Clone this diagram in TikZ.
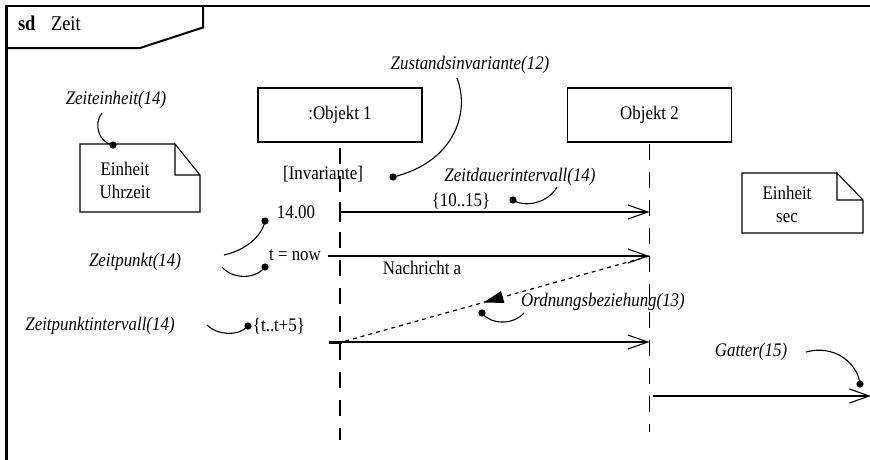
\documentclass[tikz,border=0pt]{standalone}
\usepackage{fontspec}
\setmainfont{Liberation Serif}[FakeStretch=0.88]
\usetikzlibrary{arrows.meta,decorations.markings,calc}

\begin{document}
\begin{tikzpicture}[x=1pt,y=-1pt,
  every node/.style={inner sep=0pt,outer sep=0pt},
  txt/.style={font=\fontsize{19.2}{23}\selectfont},
  itxt/.style={font=\fontsize{19.2}{23}\selectfont\itshape},
  ttl/.style={font=\fontsize{21}{25}\selectfont},
  thinline/.style={line width=1.1pt},
  objbox/.style={draw,line width=1.1pt,minimum width=164pt,minimum height=54pt,
    font=\fontsize{19.2}{23}\selectfont},
  lifeline/.style={line width=1.1pt,dash pattern=on 16pt off 12pt},
  msg/.style={line width=1.1pt,-{Straight Barb[length=20pt,width=14pt]}},
  gatemsg/.style={line width=2pt,-{Straight Barb[length=20pt,width=14pt,line width=1.1pt]}},
  annoline/.style={line width=1.1pt},
  dot/.style={fill=black},
  notebox/.style={line width=1.1pt,line join=miter},
  orderline/.style={line width=1.2pt,dash pattern=on 4pt off 4pt,
    postaction={decorate,decoration={markings,
      mark=at position 0.54 with {\arrow{Triangle[length=20pt,width=12pt]}}}}}
]
\useasboundingbox (0,0) rectangle (870,459);
\clip (0,0) rectangle (870,459);

% frame and name tab
\draw[line width=2.8pt] (6.5,480) -- (6.5,6) -- (890,6);
\draw[line width=2pt,line join=miter] (6.5,48) -- (140,48) -- (203,27.5) -- (203,6);
\node[ttl,anchor=base west] (sd) at (18,30) {\textbf{sd}};
\node[ttl,anchor=base west] (title) at (51,30) {Zeit};

% objects and lifelines
\node[objbox] (o1) at (340,115) {:Objekt 1};
\node[objbox] (o2) at (649.5,115) {Objekt 2};
\coordinate (l1end) at (340,440);
\coordinate (l2end) at (649.5,432);
\draw[lifeline,dash phase=22pt] (o1.south) -- (l1end);
\draw[lifeline,dash phase=26pt] (o2.south) -- (l2end);

% note: time unit
\draw[notebox] (175,144) -- (80,144) -- (80,212) -- (200,212) -- (200,175) -- (175,144) -- (175,175) -- (200,175);
\node[txt,align=center] (n1) at (125,180) {Einheit\\Uhrzeit};
\node[itxt] (zeinh) at (116,100) {Zeiteinheit(14)};
\coordinate (d1) at (113,145);
\draw[annoline] (102,113) .. controls (93,124) and (99,143) .. (d1);
\fill[dot] (d1) circle (3.6);

% note: seconds
\draw[notebox] (837,173) -- (742,173) -- (742,233) -- (863,233) -- (863,200) -- (837,173) -- (837,200) -- (863,200);
\node[txt,align=center] (n2) at (787,204) {Einheit\\sec};

% state invariant
\node[txt] (inv) at (323,174) {[Invariante]};
\node[itxt] (zinv) at (470,65) {Zustandsinvariante(12)};
\coordinate (d2) at (393,177);
\draw[annoline] (457,78) .. controls (471,115) and (452,163) .. (d2);
\fill[dot] (d2) circle (3.6);

% duration constraint
\node[itxt] (zdauer) at (520,177) {Zeitdauerintervall(14)};
\node[txt] (dauer) at (461,201) {\{10..15\}};
\coordinate (d3) at (513,200);
\draw[annoline] (d3) .. controls (525,208) and (548,203) .. (557,187);
\fill[dot] (d3) circle (3.6);

% first message
\coordinate (m1s) at (340,212);
\coordinate (m1e) at (649.5,212);
\draw[thinline] (340,202) -- (340,222);
\draw[msg] (m1s) -- (m1e);

% time points
\node[txt] (t1400) at (296,212) {14.00};
\node[txt] (tnow) at (295,255) {t = now};
\node[itxt] (zpunkt) at (135,262) {Zeitpunkt(14)};
\coordinate (d4) at (265,221);
\coordinate (d5) at (265,267);
\draw[annoline] (224,255) .. controls (246,250) and (262,236) .. (d4);
\draw[annoline] (222,267) .. controls (232,279) and (255,280) .. (d5);
\fill[dot] (d4) circle (3.6);
\fill[dot] (d5) circle (3.6);

% message a
\coordinate (m2s) at (328,256);
\coordinate (m2e) at (649.5,256);
\draw[msg] (m2s) -- (m2e);
\node[txt] (nachr) at (422,268) {Nachricht a};

% third message with its start marker
\coordinate (m3s) at (329,342);
\coordinate (m3b) at (342,342);
\coordinate (m3e) at (649.5,342);
\draw[msg] (m3s) -- (m3e);
\draw[line width=3pt] (m3s) -- (m3b);

% general ordering
\draw[orderline] (m2e) -- (m3b);
\node[itxt] (zord) at (603,302) {Ordnungsbeziehung(13)};
\coordinate (d6) at (482,313);
\draw[annoline] (d6) .. controls (490,324) and (512,326) .. (524,313);
\fill[dot] (d6) circle (3.6);

% time point interval
\node[itxt] (zpint) at (100,326) {Zeitpunktintervall(14)};
\node[txt] (tint) at (279,326) {\{t..t+5\}};
\coordinate (d7) at (248,326);
\draw[annoline] (207,325) .. controls (217,335) and (238,337) .. (d7);
\fill[dot] (d7) circle (3.6);

% gate
\coordinate (gs) at (653,396);
\coordinate (ge) at (871,396);
\draw[gatemsg] (gs) -- (ge);
\node[itxt] (zgate) at (751,352) {Gatter(15)};
\coordinate (d8) at (860,384);
\draw[annoline] (806,352) .. controls (835,344) and (858,364) .. (d8);
\fill[dot] (d8) circle (3.6);
\end{tikzpicture}
\end{document}
